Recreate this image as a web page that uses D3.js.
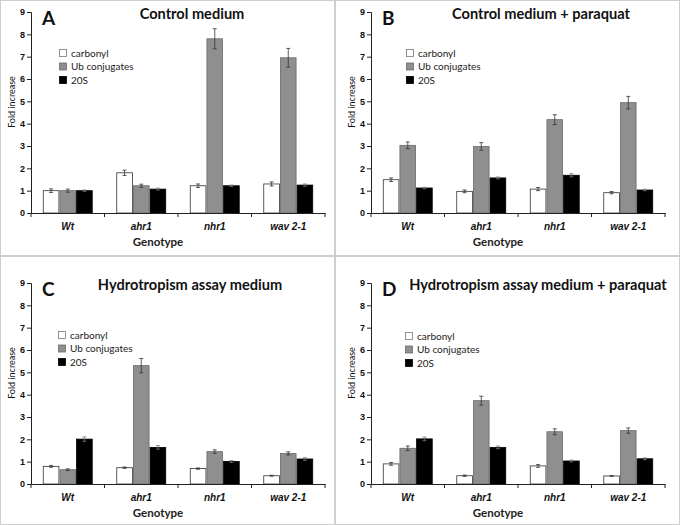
<!DOCTYPE html>
<html>
<head>
<meta charset="utf-8">
<script src="https://cdn.jsdelivr.net/npm/d3@7"></script>
<style>
  body { margin: 0; background: #fff; }
  svg { font-family: Lato, "Open Sans", sans-serif; }
  .tick text { font-weight: bold; }
</style>
</head>
<body>
<div id="chart"></div>
<script>
var svgWidth = 680;
var svgHeight = 525;

// data
var genotypes = ["Wt", "ahr1", "nhr1", "wav 2-1"];
var series = ["carbonyl", "Ub conjugates", "20S"];
var yTicks = [0, 1, 2, 3, 4, 5, 6, 7, 8, 9];
var panelLetters = ["A", "B", "C", "D"];
var panelTitles = ["Control medium", "Control medium + paraquat",
                   "Hydrotropism assay medium", "Hydrotropism assay medium + paraquat"];

// values[series][genotype]
var valuesA = [[1.00, 1.80, 1.22, 1.30], [1.00, 1.22, 7.80, 6.95], [1.00, 1.07, 1.22, 1.25]];
var errorsA = [[0.08, 0.12, 0.08, 0.09], [0.07, 0.07, 0.45, 0.42], [0.03, 0.04, 0.03, 0.05]];
var valuesB = [[1.49, 0.97, 1.07, 0.91], [3.03, 2.98, 4.18, 4.94], [1.12, 1.57, 1.69, 1.03]];
var errorsB = [[0.08, 0.06, 0.07, 0.05], [0.15, 0.17, 0.22, 0.28], [0.03, 0.04, 0.07, 0.03]];
var valuesC = [[0.79, 0.73, 0.69, 0.37], [0.64, 5.30, 1.45, 1.37], [2.01, 1.64, 1.01, 1.12]];
var errorsC = [[0.04, 0.03, 0.03, 0.02], [0.04, 0.32, 0.08, 0.07], [0.10, 0.08, 0.04, 0.06]];
var valuesD = [[0.90, 0.37, 0.81, 0.36], [1.60, 3.73, 2.34, 2.39], [2.02, 1.64, 1.03, 1.13]];
var errorsD = [[0.06, 0.03, 0.06, 0.02], [0.10, 0.20, 0.13, 0.12], [0.08, 0.06, 0.04, 0.04]];

var allValues = [valuesA, valuesB, valuesC, valuesD];
var allErrors = [errorsA, errorsB, errorsC, errorsD];

var fills = ["#ffffff", "#8f8f8f", "#000000"];
var strokes = ["#333333", "#6a6a6a", "#000000"];

// panel layout (pixel positions of the axis origin)
var panels = [
    {x: 31, y0: 213, title: 161, legX: 32, legY: 41},
    {x: 371, y0: 213, title: 170, legX: 39, legY: 41},
    {x: 31, y0: 484, title: 159, legX: 31, legY: 52},
    {x: 371, y0: 484, title: 167, legX: 38, legY: 53}
];
var plotW = 294;
var plotH = 201;

var svg = d3.select("#chart")
    .append("svg")
    .attr("width", svgWidth)
    .attr("height", svgHeight);

// panel frame lines
svg.append("rect")
    .attr("x", 0.5).attr("y", 0.5)
    .attr("width", svgWidth - 1).attr("height", svgHeight - 1)
    .attr("fill", "none").attr("stroke", "#cfcfcf");
svg.append("line")
    .attr("x1", 335).attr("x2", 335).attr("y1", 0).attr("y2", svgHeight)
    .attr("stroke", "#cfcfcf").attr("stroke-width", 2);
svg.append("line")
    .attr("x1", 0).attr("x2", svgWidth).attr("y1", 256).attr("y2", 256)
    .attr("stroke", "#cfcfcf").attr("stroke-width", 2);

var x0 = d3.scaleBand()
    .domain(genotypes)
    .range([0, plotW])
    .paddingInner(0.32)
    .paddingOuter(0.16);

var x1 = d3.scaleBand()
    .domain(series)
    .range([0, x0.bandwidth()]);

var y = d3.scaleLinear()
    .domain([0, 9])
    .range([plotH, 0]);

panels.forEach(function(p, i) {
    var g = svg.append("g")
        .attr("transform", `translate(${p.x}, ${p.y0 - plotH})`);

    var vals = allValues[i];
    var errs = allErrors[i];

    var rows = [];
    series.forEach(function(s, si) {
        genotypes.forEach(function(gt, gi) {
            rows.push({s: s, si: si, g: gt, v: vals[si][gi], e: errs[si][gi]});
        });
    });

    // bars
    g.selectAll("rect.bar")
        .data(rows)
        .enter()
        .append("rect")
        .attr("class", "bar")
        .attr("x", d => x0(d.g) + x1(d.s) + 0.5)
        .attr("y", d => y(d.v))
        .attr("width", x1.bandwidth() - 1)
        .attr("height", d => y(0) - y(d.v))
        .attr("fill", d => fills[d.si])
        .attr("stroke", d => strokes[d.si])
        .attr("stroke-width", 0.8);

    // error bars
    var cx = d => x0(d.g) + x1(d.s) + x1.bandwidth() / 2;
    var eb = g.selectAll("g.err")
        .data(rows)
        .enter()
        .append("g")
        .attr("class", "err")
        .attr("stroke", d => d.si == 2 ? "#777" : "#333")
        .attr("stroke-width", 0.8);
    eb.append("line")
        .attr("x1", cx).attr("x2", cx)
        .attr("y1", d => y(d.v + d.e))
        .attr("y2", d => y(d.v - d.e));
    eb.append("line")
        .attr("x1", d => cx(d) - 2).attr("x2", d => cx(d) + 2)
        .attr("y1", d => y(d.v + d.e))
        .attr("y2", d => y(d.v + d.e));
    eb.append("line")
        .attr("x1", d => cx(d) - 2).attr("x2", d => cx(d) + 2)
        .attr("y1", d => y(d.v - d.e))
        .attr("y2", d => y(d.v - d.e));

    // y axis
    var leftAxis = d3.axisLeft(y).tickValues(yTicks).tickSize(4).tickFormat(d3.format("d"));
    var ya = g.append("g").call(leftAxis);
    ya.select(".domain").attr("stroke", "#222");
    ya.selectAll(".tick line").attr("stroke", "#222");
    ya.selectAll(".tick text").attr("font-size", "9px").attr("fill", "#111").attr("x", -6);

    // x axis
    var bottomAxis = d3.axisBottom(x0).tickSize(0).tickSizeOuter(0);
    var xa = g.append("g")
        .attr("transform", `translate(0, ${plotH})`)
        .call(bottomAxis);
    xa.select(".domain").attr("stroke", "#222");
    xa.selectAll(".tick text")
        .attr("font-size", "10px")
        .attr("font-style", "italic")
        .attr("fill", "#111")
        .attr("dy", "0")
        .attr("y", 17);

    // category boundary ticks
    var bounds = genotypes.map(g2 => x0(g2) - x0.step() * x0.paddingInner() / 2).concat([plotW]);
    g.selectAll("line.bt")
        .data(bounds)
        .enter()
        .append("line")
        .attr("class", "bt")
        .attr("x1", d => d).attr("x2", d => d)
        .attr("y1", plotH).attr("y2", plotH + 4)
        .attr("stroke", "#222");

    // axis titles
    g.append("text")
        .attr("transform", "rotate(-90)")
        .attr("x", -(plotH - 111))
        .attr("y", -16)
        .attr("text-anchor", "middle")
        .attr("font-size", "9px")
        .attr("fill", "#111")
        .text("Fold increase");

    g.append("text")
        .attr("x", 127)
        .attr("y", plotH + 33)
        .attr("text-anchor", "middle")
        .attr("font-size", "11.5px")
        .attr("font-weight", "bold")
        .attr("fill", "#222")
        .text("Genotype");

    // panel letter and title
    g.append("text")
        .attr("x", 11)
        .attr("y", 13)
        .attr("font-size", "19px")
        .attr("font-weight", "bold")
        .attr("fill", "#111")
        .text(panelLetters[i]);

    g.append("text")
        .attr("x", p.title)
        .attr("y", 7)
        .attr("text-anchor", "middle")
        .attr("font-size", "14.6px")
        .attr("font-weight", "bold")
        .attr("fill", "#111")
        .text(panelTitles[i]);

    // legend
    var leg = g.selectAll("g.leg")
        .data(series)
        .enter()
        .append("g")
        .attr("class", "leg")
        .attr("transform", (d, k) => `translate(${p.legX}, ${p.legY + k * 13.5})`);
    leg.append("rect")
        .attr("x", -3.5).attr("y", -3.5)
        .attr("width", 7).attr("height", 7)
        .attr("fill", (d, k) => fills[k])
        .attr("stroke", (d, k) => k == 0 ? "#777" : strokes[k])
        .attr("stroke-width", 0.8);
    leg.append("text")
        .attr("x", 8)
        .attr("y", 3.5)
        .attr("font-size", "10px")
        .attr("fill", "#222")
        .text(d => d);
});
</script>
</body>
</html>
